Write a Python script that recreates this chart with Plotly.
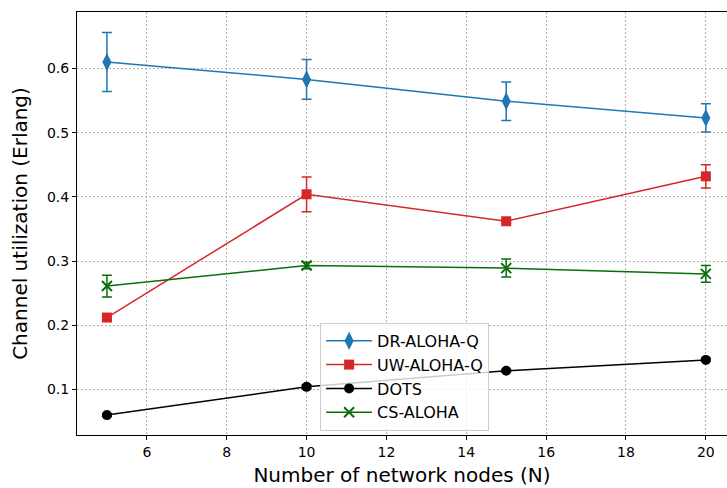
import plotly.graph_objects as go

nodes = [5, 10, 15, 20]

dr_aloha_q = [0.610, 0.583, 0.549, 0.523]
dr_aloha_q_err = [0.046, 0.031, 0.030, 0.022]

uw_aloha_q = [0.212, 0.404, 0.362, 0.432]
uw_aloha_q_err = [0.003, 0.027, 0.003, 0.018]

dots = [0.060, 0.104, 0.129, 0.146]
dots_err = [0.002, 0.003, 0.002, 0.002]

cs_aloha = [0.261, 0.293, 0.289, 0.280]
cs_aloha_err = [0.017, 0.005, 0.014, 0.013]

x_ticks = [6, 8, 10, 12, 14, 16, 18, 20]
y_ticks = [0.1, 0.2, 0.3, 0.4, 0.5, 0.6]

FONT = "DejaVu Sans"

series = [
    ("DR-ALOHA-Q", dr_aloha_q, dr_aloha_q_err, "#1f77b4", "diamond-tall", 13, None),
    ("UW-ALOHA-Q", uw_aloha_q, uw_aloha_q_err, "#d62728", "square", 10, None),
    ("DOTS", dots, dots_err, "#000000", "circle", 10, None),
    ("CS-ALOHA", cs_aloha, cs_aloha_err, "#0a6e0a", "x-thin-open", 10, 2),
]

fig = go.Figure()
for i, (name, ys, errs, color, sym, size, lw) in enumerate(series):
    marker = dict(symbol=sym, size=size, color=color)
    if lw:
        marker["line"] = dict(width=lw, color=color)
    else:
        marker["line"] = dict(width=0)
    fig.add_trace(go.Scatter(
        x=nodes, y=ys, name=name, mode="lines+markers",
        line=dict(color=color, width=1.5),
        marker=marker,
        error_y=dict(type="data", array=errs, visible=True, color=color,
                     thickness=1.5, width=5),
        legendgroup=f"g{i}",
    ))

axis_common = dict(
    showline=True, linecolor="black", linewidth=1,
    ticks="outside", ticklen=4, tickwidth=1, tickcolor="black",
    showgrid=True, gridcolor="#b0b0b0", griddash="1.5px,2.5px", gridwidth=1.2,
    zeroline=False,
    tickfont=dict(family=FONT, size=14, color="black"),
)

fig.update_layout(
    width=727, height=488,
    margin=dict(l=77, r=0, t=12, b=53),
    paper_bgcolor="white", plot_bgcolor="white",
    font=dict(family=FONT, color="black"),
    xaxis=dict(range=[4.25, 20.53], tickvals=x_ticks, mirror=True,
               title=dict(text="Number of network nodes (N)",
                          font=dict(family=FONT, size=20), standoff=9),
               **axis_common),
    yaxis=dict(range=[0.029, 0.688], tickvals=y_ticks, tickformat=".1f",
               title=dict(text="Channel utilization (Erlang)",
                          font=dict(family=FONT, size=20), standoff=13),
               **axis_common),
    legend=dict(x=0.374, y=0.265, xanchor="left", yanchor="top",
                bgcolor="rgba(255,255,255,0.8)", bordercolor="#cccccc",
                borderwidth=1, font=dict(family=FONT, size=16),
                tracegroupgap=0, itemwidth=46),
    showlegend=True,
)

fig.write_html("out.html")
